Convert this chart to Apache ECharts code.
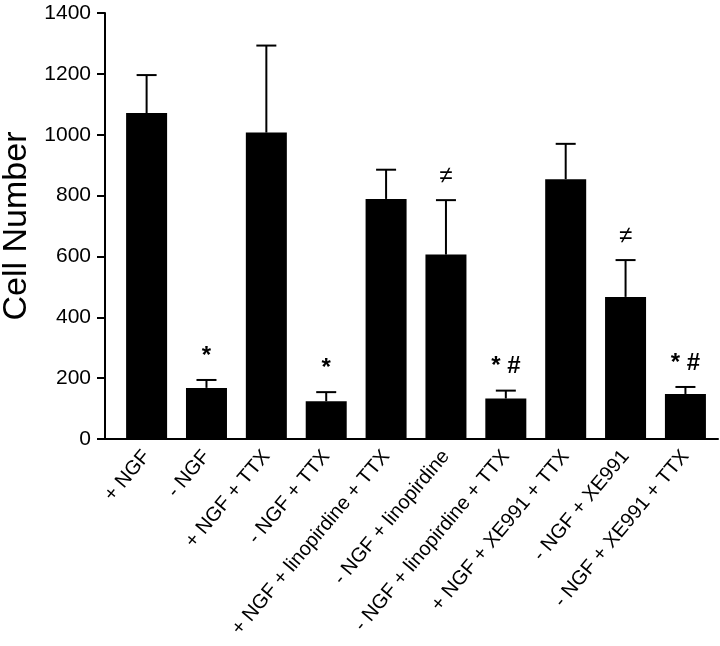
<!DOCTYPE html>
<html>
<head>
<meta charset="utf-8">
<script src="https://cdn.jsdelivr.net/npm/echarts@6/dist/echarts.min.js"></script>
<style>
  html, body { margin: 0; padding: 0; background: #fff; }
  #chart { width: 720px; height: 646px; }
</style>
</head>
<body>
<div id="chart"></div>
<script>
// groups along the x axis
const categories = [
  '+ NGF', '- NGF', '+ NGF + TTX', '- NGF + TTX',
  '+ NGF + linopirdine + TTX', '- NGF + linopirdine', '- NGF + linopirdine + TTX',
  '+ NGF + XE991 + TTX', '- NGF + XE991', '- NGF + XE991 + TTX'
]
// mean cell number
const meanValues = [1071, 168, 1007, 124, 789, 606, 133, 854, 467, 148]
// top of the error bar (mean + SEM)
const errorTop = [1196, 194, 1293, 154, 885, 785, 159, 970, 588, 171]
// significance marks above the bars
const marks = ['', '*', '', '*', '', '≠', '* #', '', '≠', '* #']
const yTicks = [0, 200, 400, 600, 800, 1000, 1200, 1400]

const font = 'Arial, "Liberation Sans", Helvetica, sans-serif'
const chart = echarts.init(document.getElementById('chart'))

const barData = meanValues.map((v, i) => [i, v])
const errData = meanValues.map((v, i) => [i, v, errorTop[i]])

chart.setOption({
  animation: false,
  grid: { left: 105, right: 2, top: 13, bottom: 207, containLabel: false, outerBoundsMode: 'none' },
  xAxis: {
    type: 'value',
    min: -0.695,
    max: 9.544,
    splitLine: { show: false },
    axisLine: { show: true, onZero: false, lineStyle: { color: '#000', width: 2 } },
    axisTick: { show: false },
    axisLabel: {
      customValues: categories.map((c, i) => i),
      formatter: v => categories[Math.round(v)] || '',
      rotate: 50,
      margin: 14,
      color: '#000',
      fontSize: 20,
      fontFamily: font
    }
  },
  yAxis: {
    type: 'value',
    min: 0,
    max: 1400,
    interval: 200,
    name: 'Cell Number',
    nameLocation: 'middle',
    nameGap: 70,
    nameTextStyle: { color: '#000', fontSize: 34, fontFamily: font },
    splitLine: { show: false },
    axisLine: { show: true, onZero: false, lineStyle: { color: '#000', width: 2 } },
    axisTick: { show: true, inside: false, length: 8, lineStyle: { color: '#000', width: 2 } },
    axisLabel: {
      margin: 14,
      color: '#000',
      fontSize: 21,
      fontFamily: font,
      formatter: v => (yTicks.indexOf(v) >= 0 ? String(v) : '')
    }
  },
  series: [
    {
      type: 'bar',
      data: barData,
      barWidth: 41,
      itemStyle: { color: '#000' }
    },
    {
      type: 'custom',
      data: errData,
      encode: { x: 0, y: [1, 2] },
      z: 3,
      renderItem: function (params, api) {
        const x = api.value(0)
        const base = api.coord([x, api.value(1)])
        const top = api.coord([x, api.value(2)])
        const half = 10
        const style = { stroke: '#000', lineWidth: 2 }
        const children = [
          { type: 'line', shape: { x1: base[0], y1: base[1], x2: top[0], y2: top[1] }, style: style },
          { type: 'line', shape: { x1: top[0] - half, y1: top[1], x2: top[0] + half, y2: top[1] }, style: style }
        ]
        const m = marks[params.dataIndex]
        if (m) {
          children.push({
            type: 'text',
            style: {
              text: m,
              x: top[0],
              y: top[1] - 12,
              align: 'center',
              verticalAlign: 'bottom',
              fill: '#000',
              font: (m === '≠' ? '24px ' : 'bold 24px ') + font
            }
          })
        }
        return { type: 'group', children: children }
      }
    }
  ]
})
</script>
</body>
</html>
